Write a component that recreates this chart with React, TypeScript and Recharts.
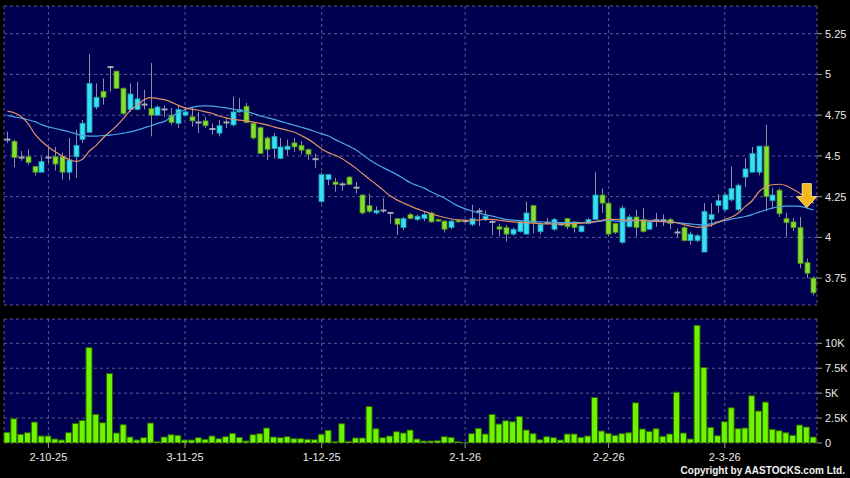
import { ComposedChart, Bar, Line, XAxis, YAxis, CartesianGrid, ReferenceDot } from 'recharts';

// x axis ticks (trading-day index -> label)
const tickIdx = [6, 26, 46, 67, 88, 105];
const tickLabels = ['2-10-25', '3-11-25', '1-12-25', '2-1-26', '2-2-26', '2-3-26'];
const priceTicks = [3.75, 4, 4.25, 4.5, 4.75, 5, 5.25];
const volTicks = [0, 2500, 5000, 7500, 10000];
const volTickLabels = ['0', '2.5K', '5K', '7.5K', '10K'];

const open = [
  4.60, 4.59, 4.49, 4.495, 4.435, 4.40, 4.49, 4.495, 4.495, 4.40,
  4.495, 4.60, 4.645, 4.80, 4.895, 5.045, 5.02, 4.915, 4.785, 4.785,
  4.815, 4.79, 4.75, 4.785, 4.75, 4.70, 4.75, 4.74, 4.705, 4.715,
  4.665, 4.64, 4.705, 4.69, 4.77, 4.805, 4.70, 4.675, 4.61, 4.545,
  4.485, 4.54, 4.58, 4.565, 4.54, 4.48, 4.22, 4.355, 4.34, 4.325,
  4.37, 4.305, 4.26, 4.195, 4.15, 4.165, 4.15, 4.115, 4.06, 4.14,
  4.11, 4.115, 4.15, 4.11, 4.10, 4.06, 4.105, 4.10, 4.08, 4.16,
  4.11, 4.095, 4.065, 4.06, 4.02, 4.035, 4.02, 4.195, 4.035, 4.09,
  4.05, 4.08, 4.115, 4.095, 4.035, 4.085, 4.11, 4.26, 4.21, 4.085,
  3.97, 4.065, 4.125, 4.11, 4.05, 4.105, 4.105, 4.11, 4.03, 4.06,
  3.98, 3.98, 3.91, 4.11, 4.195, 4.17, 4.23, 4.17, 4.37, 4.40,
  4.40, 4.56, 4.225, 4.29, 4.115, 4.095, 4.06, 3.845, 3.75,
];
const high = [
  4.65, 4.60, 4.53, 4.54, 4.44, 4.495, 4.555, 4.555, 4.52, 4.61,
  4.66, 4.72, 5.125, 4.945, 4.975, 5.05, 5.025, 4.92, 4.945, 4.955,
  4.905, 5.07, 4.81, 4.81, 4.795, 4.815, 4.80, 4.80, 4.77, 4.74,
  4.70, 4.72, 4.73, 4.865, 4.855, 4.825, 4.71, 4.68, 4.62, 4.64,
  4.61, 4.60, 4.61, 4.59, 4.545, 4.515, 4.40, 4.39, 4.365, 4.34,
  4.375, 4.34, 4.265, 4.27, 4.19, 4.24, 4.155, 4.12, 4.125, 4.15,
  4.14, 4.155, 4.155, 4.115, 4.105, 4.11, 4.11, 4.11, 4.20, 4.18,
  4.165, 4.11, 4.085, 4.075, 4.06, 4.10, 4.22, 4.20, 4.09, 4.12,
  4.12, 4.09, 4.12, 4.10, 4.075, 4.12, 4.40, 4.30, 4.22, 4.09,
  4.195, 4.14, 4.17, 4.18, 4.10, 4.15, 4.14, 4.12, 4.055, 4.07,
  4.035, 4.02, 4.21, 4.21, 4.265, 4.27, 4.435, 4.33, 4.485, 4.555,
  4.56, 4.69, 4.305, 4.30, 4.15, 4.12, 4.125, 3.87, 3.76,
];
const low = [
  4.58, 4.43, 4.47, 4.445, 4.38, 4.40, 4.455, 4.41, 4.355, 4.35,
  4.365, 4.58, 4.645, 4.785, 4.815, 4.895, 4.91, 4.75, 4.77, 4.78,
  4.785, 4.62, 4.745, 4.74, 4.69, 4.67, 4.745, 4.68, 4.64, 4.67,
  4.63, 4.62, 4.67, 4.68, 4.765, 4.70, 4.60, 4.51, 4.475, 4.485,
  4.48, 4.505, 4.525, 4.51, 4.475, 4.425, 4.21, 4.32, 4.28, 4.285,
  4.32, 4.27, 4.14, 4.15, 4.14, 4.15, 4.085, 4.015, 4.045, 4.11,
  4.10, 4.10, 4.09, 4.095, 4.03, 4.05, 4.09, 4.09, 4.07, 4.07,
  4.10, 4.015, 4.005, 3.975, 4.01, 4.03, 4.02, 4.025, 4.02, 4.08,
  4.04, 4.07, 4.05, 4.03, 4.03, 4.08, 4.105, 4.15, 4.01, 4.02,
  3.96, 4.06, 4.005, 4.03, 4.045, 4.065, 4.07, 4.05, 4.00, 3.975,
  3.955, 3.97, 3.91, 4.065, 4.15, 4.16, 4.22, 4.16, 4.31, 4.40,
  4.38, 4.16, 4.18, 4.125, 4.005, 4.04, 3.81, 3.75, 3.645,
];
const close = [
  4.60, 4.49, 4.49, 4.46, 4.40, 4.465, 4.49, 4.45, 4.40, 4.475,
  4.565, 4.70, 4.945, 4.86, 4.86, 5.045, 4.915, 4.76, 4.88, 4.85,
  4.815, 4.75, 4.80, 4.785, 4.705, 4.785, 4.77, 4.715, 4.705, 4.685,
  4.665, 4.685, 4.705, 4.77, 4.785, 4.705, 4.61, 4.515, 4.54, 4.62,
  4.555, 4.56, 4.555, 4.535, 4.51, 4.48, 4.385, 4.385, 4.325, 4.325,
  4.325, 4.305, 4.15, 4.16, 4.165, 4.165, 4.15, 4.08, 4.115, 4.115,
  4.13, 4.14, 4.095, 4.10, 4.05, 4.10, 4.095, 4.10, 4.115, 4.16,
  4.13, 4.095, 4.05, 4.02, 4.05, 4.095, 4.15, 4.09, 4.08, 4.09,
  4.11, 4.08, 4.065, 4.06, 4.07, 4.11, 4.26, 4.21, 4.02, 4.03,
  4.18, 4.125, 4.06, 4.035, 4.095, 4.105, 4.105, 4.085, 4.03, 3.98,
  4.02, 4.01, 4.16, 4.14, 4.225, 4.26, 4.30, 4.32, 4.42, 4.515,
  4.56, 4.25, 4.26, 4.145, 4.09, 4.06, 3.84, 3.78, 3.66,
];
const ma10 = [
  4.775, 4.765, 4.742, 4.70, 4.635, 4.59, 4.555, 4.525, 4.50, 4.478,
  4.466, 4.48, 4.53, 4.565, 4.61, 4.648, 4.685, 4.73, 4.78, 4.81,
  4.845, 4.858, 4.852, 4.845, 4.83, 4.81, 4.795, 4.787, 4.78, 4.77,
  4.76, 4.745, 4.733, 4.725, 4.72, 4.715, 4.707, 4.70, 4.69, 4.678,
  4.667, 4.657, 4.645, 4.625, 4.603, 4.575, 4.543, 4.52, 4.503, 4.483,
  4.455, 4.425, 4.39, 4.357, 4.325, 4.29, 4.255, 4.23, 4.21, 4.192,
  4.175, 4.16, 4.145, 4.133, 4.122, 4.113, 4.107, 4.105, 4.105, 4.107,
  4.11, 4.11, 4.105, 4.10, 4.095, 4.092, 4.09, 4.088, 4.085, 4.083,
  4.082, 4.082, 4.083, 4.085, 4.087, 4.09, 4.097, 4.105, 4.11, 4.11,
  4.107, 4.106, 4.105, 4.103, 4.10, 4.098, 4.096, 4.095, 4.09, 4.078,
  4.07, 4.062, 4.065, 4.075, 4.092, 4.11, 4.125, 4.15, 4.19, 4.225,
  4.28, 4.31, 4.323, 4.326, 4.317, 4.295, 4.27, 4.24, 4.21,
];
const ma20 = [
  4.748, 4.74, 4.732, 4.722, 4.71, 4.692, 4.678, 4.668, 4.658, 4.648,
  4.636, 4.625, 4.622, 4.622, 4.625, 4.628, 4.633, 4.64, 4.647, 4.658,
  4.672, 4.685, 4.70, 4.712, 4.74, 4.765, 4.785, 4.798, 4.805, 4.807,
  4.806, 4.80, 4.795, 4.787, 4.778, 4.772, 4.76, 4.746, 4.735, 4.724,
  4.712, 4.70, 4.688, 4.676, 4.664, 4.65, 4.635, 4.622, 4.60, 4.58,
  4.56, 4.538, 4.507, 4.477, 4.45, 4.428, 4.407, 4.385, 4.36, 4.335,
  4.318, 4.302, 4.28, 4.26, 4.24, 4.215, 4.192, 4.175, 4.162, 4.15,
  4.138, 4.13, 4.12, 4.11, 4.106, 4.103, 4.10, 4.097, 4.095, 4.093,
  4.09, 4.09, 4.09, 4.09, 4.091, 4.092, 4.095, 4.10, 4.105, 4.10,
  4.097, 4.10, 4.103, 4.105, 4.105, 4.102, 4.098, 4.094, 4.09, 4.086,
  4.083, 4.078, 4.076, 4.085, 4.095, 4.103, 4.112, 4.12, 4.128, 4.14,
  4.155, 4.168, 4.18, 4.188, 4.192, 4.192, 4.19, 4.18, 4.168,
];
const volume = [
  1067, 2433, 867, 1033, 2100, 700, 700, 400, 300, 1033,
  1967, 2267, 9567, 2867, 2033, 6967, 1000, 1833, 600, 300,
  533, 2000, 133, 600, 833, 767, 300, 300, 533, 367,
  700, 433, 633, 967, 567, 200, 833, 933, 1500, 600,
  533, 633, 433, 433, 367, 333, 867, 1267, 133, 1933,
  167, 500, 500, 3667, 1433, 533, 700, 1133, 1000, 1300,
  400, 200, 200, 233, 633, 567, 133, 67, 933, 1467,
  900, 2867, 1900, 2233, 2133, 2667, 1300, 933, 333, 633,
  533, 300, 900, 900, 567, 700, 4567, 1200, 967, 767,
  933, 1033, 4033, 1400, 1167, 1433, 667, 900, 5100, 1000,
  400, 11800, 7567, 1567, 733, 2133, 3533, 1433, 1500, 4733,
  3200, 4100, 1367, 1233, 1033, 767, 1800, 1600, 600,
];

const rows = open.map((o, i) => ({
  i, o, h: high[i], l: low[i], c: close[i],
  range: [low[i], high[i]],
  ma10: ma10[i], ma20: ma20[i], v: volume[i],
}));

const PLOT_BG = '#000050';
const GRID = '#5a5a8c';
const FONT = '"Liberation Sans", Arial, sans-serif';

function Candle(props: any) {
  const { x, y, width, height, payload } = props;
  if (!payload) return null;
  const { o, h, l, c } = payload;
  const top = Math.min(y, y + height);
  const span = Math.abs(height);
  const k = h > l ? span / (h - l) : 0;
  const py = (v: number) => top + (h - v) * k;
  const cx = Math.round(x + width / 2) + 0.5;
  const yo = py(o);
  const yc = py(c);
  const flat = Math.abs(c - o) < 1e-9;
  const up = c > o;
  return (
    <g>
      <line x1={cx} x2={cx} y1={top} y2={top + span} stroke="#8c8ca4" strokeWidth={1} />
      {flat ? (
        <rect x={cx - 3} y={yo - 1} width={6} height={2} fill="#a8a8b4" />
      ) : (
        <rect
          x={cx - 2.5}
          y={Math.min(yo, yc)}
          width={5}
          height={Math.max(Math.abs(yo - yc), 1)}
          fill={up ? '#36e2f2' : '#84e02e'}
          stroke={up ? '#1f9cae' : '#4e8c1c'}
          strokeWidth={0.8}
        />
      )}
    </g>
  );
}

function DownArrow(props: any) {
  const { cx, cy } = props;
  const d = `M${cx - 4.5},${cy - 13} L${cx + 4.5},${cy - 13} L${cx + 4.5},${cy} L${cx + 10},${cy} L${cx},${cy + 11} L${cx - 10},${cy} L${cx - 4.5},${cy} Z`;
  return <path d={d} fill="#f4b81c" stroke="#ffe68a" strokeWidth={1} />;
}

const fmtDate = (v: number) => {
  const k = tickIdx.indexOf(v);
  return k >= 0 ? tickLabels[k] : '';
};
const fmtVol = (v: number) => {
  const k = volTicks.indexOf(v);
  return k >= 0 ? volTickLabels[k] : String(v);
};

export default function App() {
  return (
    <div style={{ position: 'absolute', left: 0, top: 0, width: 850, height: 478, background: '#000', overflow: 'hidden', fontFamily: FONT }}>
      <ComposedChart width={850} height={312} data={rows} margin={{ top: 6, right: 0, bottom: 7, left: 4 }}>
        <CartesianGrid fill={PLOT_BG} stroke={GRID} strokeDasharray="3 3" />
        <XAxis dataKey="i" hide ticks={tickIdx} interval={0} />
        <YAxis
          orientation="right"
          type="number"
          domain={[3.585, 5.42]}
          ticks={priceTicks}
          allowDataOverflow
          width={33}
          axisLine={false}
          tickSize={5}
          tickMargin={3}
          tickLine={{ stroke: '#9a9a9a' }}
          tick={{ fill: '#e8e8e8', fontSize: 11, fontFamily: FONT }}
        />
        <Line dataKey="ma20" stroke="#4aa6e6" strokeWidth={1.2} dot={false} type="monotone" isAnimationActive={false} />
        <Line dataKey="ma10" stroke="#e09068" strokeWidth={1.2} dot={false} type="monotone" isAnimationActive={false} />
        <Bar dataKey="range" shape={(p: any) => <Candle {...p} />} isAnimationActive={false} />
        <ReferenceDot x={117} y={4.25} r={0} shape={(p: any) => <DownArrow {...p} />} />
      </ComposedChart>
      <div style={{ position: 'absolute', left: 0, top: 310 }}>
        <ComposedChart width={850} height={168} data={rows} margin={{ top: 9, right: 0, bottom: 0, left: 4 }}>
          <CartesianGrid fill={PLOT_BG} stroke={GRID} strokeDasharray="3 3" />
          <XAxis
            dataKey="i"
            ticks={tickIdx}
            interval={0}
            height={35}
            tickFormatter={fmtDate}
            axisLine={false}
            tickSize={5}
            tickMargin={5}
            tickLine={{ stroke: '#9a9a9a' }}
            tick={{ fill: '#e8e8e8', fontSize: 11, fontFamily: FONT }}
          />
          <YAxis
            orientation="right"
            type="number"
            domain={[0, 12437]}
            ticks={volTicks}
            allowDataOverflow
            width={33}
            axisLine={false}
            tickSize={5}
            tickMargin={3}
            tickFormatter={fmtVol}
            tickLine={{ stroke: '#9a9a9a' }}
            tick={{ fill: '#e8e8e8', fontSize: 11, fontFamily: FONT }}
          />
          <Bar dataKey="v" fill="#6cf400" stroke="#2e6400" strokeWidth={1} barSize={6} isAnimationActive={false} />
        </ComposedChart>
      </div>
      <div style={{ position: 'absolute', right: 5, top: 465, color: '#f0f0f0', fontSize: 10, fontWeight: 'bold', letterSpacing: 0 }}>
        Copyright by AASTOCKS.com Ltd.
      </div>
    </div>
  );
}
